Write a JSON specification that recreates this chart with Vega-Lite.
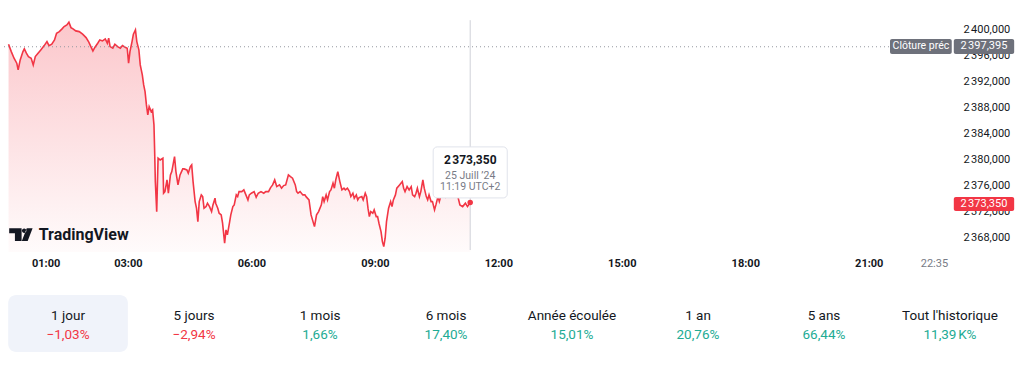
{
  "$schema": "https://vega.github.io/schema/vega-lite/v6.json",
  "background": "white",
  "padding": {"left": 0, "top": 15, "right": 0, "bottom": 0},
  "spacing": 20,
  "config": {"view": {"stroke": null}, "font": "Roboto", "axis": {"labelOverlap": false, "labelBound": false}},
  "vconcat": [
    {
      "width": 948,
      "height": 237,
      "resolve": {"axis": {"y": "independent"}},
      "data": {
        "format": {"parse": {"time": "utc:'%H:%M'"}},
        "values": [
          {"time":"00:06","price":2397.792},{"time":"00:10","price":2396.649},{"time":"00:14","price":2395.629},{"time":"00:18","price":2394.857},{"time":"00:20","price":2393.822},{"time":"00:23","price":2395.367},{"time":"00:27","price":2396.649},{"time":"00:29","price":2397.066},{"time":"00:32","price":2396.402},{"time":"00:35","price":2395.876},{"time":"00:39","price":2395.629},{"time":"00:42","price":2394.595},{"time":"00:45","price":2395.876},{"time":"00:49","price":2396.402},{"time":"00:53","price":2396.911},{"time":"00:58","price":2397.575},
          {"time":"01:02","price":2398.193},{"time":"01:05","price":2397.575},{"time":"01:09","price":2397.792},{"time":"01:13","price":2398.456},{"time":"01:16","price":2399.490},{"time":"01:20","price":2399.737},{"time":"01:24","price":2400.154},{"time":"01:27","price":2400.510},{"time":"01:31","price":2400.772},{"time":"01:34","price":2401.189},{"time":"01:37","price":2400.355},{"time":"01:40","price":2400.154},{"time":"01:44","price":2399.846},{"time":"01:49","price":2399.737},{"time":"01:54","price":2399.336},{"time":"01:59","price":2398.811},
          {"time":"02:03","price":2398.100},{"time":"02:06","price":2397.421},{"time":"02:09","price":2396.757},{"time":"02:12","price":2397.328},{"time":"02:16","price":2397.946},{"time":"02:19","price":2398.456},{"time":"02:23","price":2398.301},{"time":"02:27","price":2398.610},{"time":"02:30","price":2397.946},{"time":"02:32","price":2398.718},{"time":"02:34","price":2397.421},{"time":"02:38","price":2397.174},{"time":"02:41","price":2397.792},{"time":"02:45","price":2397.421},{"time":"02:49","price":2397.174},{"time":"02:52","price":2397.575},{"time":"02:56","price":2397.328},{"time":"02:59","price":2397.174},
          {"time":"03:01","price":2394.857},{"time":"03:03","price":2396.649},{"time":"03:06","price":2398.193},{"time":"03:08","price":2399.336},{"time":"03:11","price":2400.000},{"time":"03:13","price":2398.193},{"time":"03:16","price":2396.911},{"time":"03:18","price":2394.595},{"time":"03:21","price":2393.050},{"time":"03:23","price":2391.506},{"time":"03:25","price":2390.471},{"time":"03:27","price":2388.417},{"time":"03:29","price":2386.873},{"time":"03:31","price":2388.154},{"time":"03:34","price":2387.382},{"time":"03:36","price":2387.645},{"time":"03:38","price":2385.328},{"time":"03:39","price":2381.205},{"time":"03:40","price":2376.571},{"time":"03:42","price":2371.938},{"time":"03:44","price":2380.185},{"time":"03:47","price":2379.923},{"time":"03:51","price":2380.185},{"time":"03:52","price":2374.780},{"time":"03:54","price":2375.027},{"time":"03:57","price":2376.834},{"time":"03:59","price":2374.780},
          {"time":"04:02","price":2377.606},{"time":"04:04","price":2378.116},{"time":"04:08","price":2380.432},{"time":"04:10","price":2378.116},{"time":"04:13","price":2376.062},{"time":"04:16","price":2377.606},{"time":"04:20","price":2378.533},{"time":"04:22","price":2378.533},{"time":"04:26","price":2378.378},{"time":"04:28","price":2377.869},{"time":"04:31","price":2378.888},{"time":"04:33","price":2379.151},{"time":"04:35","price":2376.571},{"time":"04:38","price":2373.483},{"time":"04:40","price":2372.463},{"time":"04:42","price":2370.394},{"time":"04:44","price":2373.483},{"time":"04:47","price":2374.517},{"time":"04:49","price":2374.255},{"time":"04:51","price":2372.463},{"time":"04:54","price":2372.710},{"time":"04:56","price":2373.236},{"time":"04:59","price":2372.710},
          {"time":"05:02","price":2371.938},{"time":"05:04","price":2372.973},{"time":"05:07","price":2374.008},{"time":"05:08","price":2373.236},{"time":"05:11","price":2372.463},{"time":"05:13","price":2371.691},{"time":"05:16","price":2371.429},{"time":"05:18","price":2370.147},{"time":"05:21","price":2367.058},{"time":"05:23","price":2369.112},{"time":"05:25","price":2368.340},{"time":"05:28","price":2370.147},{"time":"05:30","price":2371.429},{"time":"05:33","price":2372.710},{"time":"05:35","price":2372.973},{"time":"05:38","price":2374.517},{"time":"05:40","price":2374.255},{"time":"05:42","price":2375.027},{"time":"05:46","price":2375.027},{"time":"05:49","price":2375.290},{"time":"05:52","price":2374.517},{"time":"05:55","price":2373.745},{"time":"05:57","price":2374.517},
          {"time":"06:00","price":2374.780},{"time":"06:04","price":2375.027},{"time":"06:07","price":2374.162},{"time":"06:10","price":2374.780},{"time":"06:14","price":2375.027},{"time":"06:18","price":2374.780},{"time":"06:21","price":2375.027},{"time":"06:25","price":2375.027},{"time":"06:28","price":2375.645},{"time":"06:31","price":2376.062},{"time":"06:34","price":2376.834},{"time":"06:37","price":2375.799},{"time":"06:41","price":2376.062},{"time":"06:44","price":2375.552},{"time":"06:47","price":2375.954},{"time":"06:50","price":2376.062},{"time":"06:54","price":2377.606},{"time":"06:57","price":2377.344},
          {"time":"07:00","price":2377.097},{"time":"07:04","price":2376.062},{"time":"07:06","price":2375.027},{"time":"07:08","price":2374.780},{"time":"07:11","price":2375.027},{"time":"07:15","price":2374.517},{"time":"07:18","price":2374.517},{"time":"07:20","price":2374.208},{"time":"07:24","price":2373.745},{"time":"07:27","price":2371.429},{"time":"07:32","price":2369.622},{"time":"07:35","price":2371.429},{"time":"07:38","price":2371.938},{"time":"07:42","price":2372.973},{"time":"07:44","price":2374.255},{"time":"07:46","price":2373.483},{"time":"07:49","price":2374.517},{"time":"07:51","price":2373.745},{"time":"07:54","price":2375.027},{"time":"07:56","price":2375.290},{"time":"07:59","price":2376.324},
          {"time":"08:01","price":2375.552},{"time":"08:03","price":2376.834},{"time":"08:06","price":2378.116},{"time":"08:09","price":2376.571},{"time":"08:12","price":2375.290},{"time":"08:15","price":2375.552},{"time":"08:17","price":2375.290},{"time":"08:20","price":2375.552},{"time":"08:23","price":2375.027},{"time":"08:25","price":2374.255},{"time":"08:28","price":2374.780},{"time":"08:30","price":2374.008},{"time":"08:33","price":2374.517},{"time":"08:35","price":2373.745},{"time":"08:37","price":2374.100},{"time":"08:41","price":2374.255},{"time":"08:43","price":2373.745},{"time":"08:46","price":2374.780},{"time":"08:48","price":2374.255},{"time":"08:50","price":2372.463},{"time":"08:52","price":2371.166},{"time":"08:54","price":2371.938},{"time":"08:57","price":2371.691},{"time":"08:59","price":2372.201},
          {"time":"09:02","price":2371.166},{"time":"09:04","price":2371.166},{"time":"09:06","price":2370.147},{"time":"09:09","price":2368.849},{"time":"09:11","price":2367.305},{"time":"09:13","price":2366.533},{"time":"09:15","price":2367.830},{"time":"09:17","price":2370.394},{"time":"09:20","price":2372.463},{"time":"09:23","price":2373.483},{"time":"09:25","price":2372.710},{"time":"09:27","price":2373.745},{"time":"09:30","price":2374.517},{"time":"09:32","price":2375.552},{"time":"09:36","price":2376.062},{"time":"09:40","price":2376.571},{"time":"09:42","price":2375.552},{"time":"09:44","price":2375.027},{"time":"09:47","price":2375.799},{"time":"09:50","price":2375.290},{"time":"09:53","price":2375.799},{"time":"09:55","price":2374.517},{"time":"09:58","price":2374.255},
          {"time":"10:00","price":2374.780},{"time":"10:02","price":2375.552},{"time":"10:05","price":2374.255},{"time":"10:07","price":2375.027},{"time":"10:10","price":2376.834},{"time":"10:12","price":2375.552},{"time":"10:15","price":2374.255},{"time":"10:17","price":2373.745},{"time":"10:19","price":2374.517},{"time":"10:22","price":2373.483},{"time":"10:24","price":2373.483},{"time":"10:27","price":2372.201},{"time":"10:29","price":2372.973},{"time":"10:32","price":2374.255},{"time":"10:34","price":2373.483},{"time":"10:36","price":2374.255},{"time":"10:39","price":2374.826},{"time":"10:43","price":2374.208},{"time":"10:47","price":2374.981},{"time":"10:50","price":2374.517},{"time":"10:54","price":2375.290},{"time":"10:58","price":2374.826},
          {"time":"11:01","price":2374.255},{"time":"11:04","price":2372.973},{"time":"11:08","price":2372.710},{"time":"11:12","price":2373.236},{"time":"11:15","price":2372.710},{"time":"11:19","price":2373.350}
        ]
      },
      "layer": [
        {
          "mark": {
            "type": "area",
            "color": {
              "gradient": "linear", "x1": 0, "y1": 0, "x2": 0, "y2": 1,
              "stops": [
                {"offset": 0, "color": "rgba(242,54,69,0.28)"},
                {"offset": 1, "color": "rgba(242,54,69,0.02)"}
              ]
            }
          },
          "encoding": {
            "x": {
              "field": "time", "type": "temporal",
              "scale": {
                "type": "utc",
                "domain": [
                  {"year": 1899, "month": 12, "date": 31, "hours": 23, "minutes": 55, "utc": true},
                  {"year": 1900, "month": 1, "date": 1, "hours": 22, "minutes": 57, "utc": true}
                ]
              },
              "axis": {
                "title": null,
                "values": [
                  {"year": 1900, "month": 1, "date": 1, "hours": 1, "utc": true},
                  {"year": 1900, "month": 1, "date": 1, "hours": 3, "utc": true},
                  {"year": 1900, "month": 1, "date": 1, "hours": 6, "utc": true},
                  {"year": 1900, "month": 1, "date": 1, "hours": 9, "utc": true},
                  {"year": 1900, "month": 1, "date": 1, "hours": 12, "utc": true},
                  {"year": 1900, "month": 1, "date": 1, "hours": 15, "utc": true},
                  {"year": 1900, "month": 1, "date": 1, "hours": 18, "utc": true},
                  {"year": 1900, "month": 1, "date": 1, "hours": 21, "utc": true},
                  {"year": 1900, "month": 1, "date": 1, "hours": 22, "minutes": 35, "utc": true}
                ],
                "labelExpr": "utcFormat(datum.value, '%H:%M')",
                "labelColor": {"condition": {"test": "utchours(datum.value) === 22", "value": "#787b86"}, "value": "#131722"},
                "labelFontWeight": {"condition": {"test": "utchours(datum.value) === 22", "value": "normal"}, "value": "bold"},
                "grid": false, "domain": false, "ticks": false, "tickSize": 0,
                "labelPadding": 5, "labelFontSize": 11, "labelFlush": false, "labelOverlap": false
              }
            },
            "y": {
              "field": "price", "type": "quantitative",
              "scale": {"domain": [2365.7, 2402.3], "zero": false, "nice": false},
              "axis": {
                "title": null, "orient": "right",
                "values": [2368, 2372, 2376, 2380, 2384, 2388, 2392, 2396, 2400],
                "labelExpr": "replace(replace(format(datum.value, ',.3f'), ',', '\u202f'), '.', ',')",
                "grid": false, "domain": false, "ticks": false, "tickSize": 0, "labelOverlap": false, "labelBound": false,
                "labelPadding": 14, "labelFontSize": 11, "labelColor": "#131722", "labelFlush": false
              }
            },
            "y2": {"datum": 2365.7}
          }
        },
        {
          "mark": {"type": "line", "color": "#f23645", "strokeWidth": 1.6},
          "encoding": {
            "x": {"field": "time", "type": "temporal"},
            "y": {"field": "price", "type": "quantitative", "axis": null}
          }
        },
        {
          "data": {"values": [{}]},
          "mark": {"type": "rule", "color": "#9598a1", "strokeDash": [1, 3], "strokeWidth": 1},
          "encoding": {"y": {"datum": 2397.395, "type": "quantitative", "axis": null}}
        },
        {
          "data": {"values": [{}]},
          "mark": {"type": "rule", "color": "#cfd1d8", "strokeWidth": 1},
          "encoding": {
            "x": {"datum": {"year": 1900, "month": 1, "date": 1, "hours": 11, "minutes": 19, "utc": true}, "type": "temporal"},
            "y": {"datum": 2401.5, "type": "quantitative", "axis": null},
            "y2": {"datum": 2366.0}
          }
        },
        {
          "data": {"values": [{}]},
          "mark": {"type": "circle", "color": "#f23645", "size": 30, "opacity": 1},
          "encoding": {
            "x": {"datum": {"year": 1900, "month": 1, "date": 1, "hours": 11, "minutes": 19, "utc": true}, "type": "temporal"},
            "y": {"datum": 2373.35, "type": "quantitative", "axis": null}
          }
        },
        {
          "data": {"values": [{}]},
          "mark": {"type": "rect", "fill": "#ffffff", "stroke": "#e0e3eb", "strokeWidth": 1, "cornerRadius": 4},
          "encoding": {
            "x": {"datum": {"year": 1900, "month": 1, "date": 1, "hours": 10, "minutes": 25, "utc": true}, "type": "temporal"},
            "x2": {"datum": {"year": 1900, "month": 1, "date": 1, "hours": 12, "minutes": 13, "utc": true}},
            "y": {"datum": 2381.93, "type": "quantitative", "axis": null},
            "y2": {"datum": 2374.05}
          }
        },
        {
          "data": {"values": [{}]},
          "mark": {"type": "text", "text": "2\u202f373,350", "fontSize": 12, "fontWeight": "bold", "color": "#131722"},
          "encoding": {
            "x": {"datum": {"year": 1900, "month": 1, "date": 1, "hours": 11, "minutes": 19, "utc": true}, "type": "temporal"},
            "y": {"datum": 2379.85, "type": "quantitative", "axis": null}
          }
        },
        {
          "data": {"values": [{}]},
          "mark": {"type": "text", "text": "25 Juill \u201924", "fontSize": 10.5, "color": "#787b86"},
          "encoding": {
            "x": {"datum": {"year": 1900, "month": 1, "date": 1, "hours": 11, "minutes": 19, "utc": true}, "type": "temporal"},
            "y": {"datum": 2377.5, "type": "quantitative", "axis": null}
          }
        },
        {
          "data": {"values": [{}]},
          "mark": {"type": "text", "text": "11:19 UTC+2", "fontSize": 10.5, "color": "#787b86"},
          "encoding": {
            "x": {"datum": {"year": 1900, "month": 1, "date": 1, "hours": 11, "minutes": 19, "utc": true}, "type": "temporal"},
            "y": {"datum": 2375.8, "type": "quantitative", "axis": null}
          }
        },
        {
          "data": {"values": [{}]},
          "mark": {"type": "rect", "fill": "#6e717b", "cornerRadius": 2},
          "encoding": {
            "x": {"datum": {"year": 1900, "month": 1, "date": 1, "hours": 21, "minutes": 31, "utc": true}, "type": "temporal"},
            "x2": {"datum": {"year": 1900, "month": 1, "date": 1, "hours": 23, "minutes": 1, "utc": true}},
            "y": {"datum": 2398.61, "type": "quantitative", "axis": null},
            "y2": {"datum": 2396.29}
          }
        },
        {
          "data": {"values": [{}]},
          "mark": {"type": "rect", "fill": "#6e717b", "cornerRadius": 2},
          "encoding": {
            "x": {"datum": {"year": 1900, "month": 1, "date": 1, "hours": 23, "minutes": 4, "utc": true}, "type": "temporal"},
            "x2": {"datum": {"year": 1900, "month": 1, "date": 2, "hours": 0, "minutes": 32, "utc": true}},
            "y": {"datum": 2398.61, "type": "quantitative", "axis": null},
            "y2": {"datum": 2396.29}
          }
        },
        {
          "data": {"values": [{}]},
          "mark": {"type": "text", "text": "Cl\u00f4ture pr\u00e9c", "fontSize": 10.5, "color": "#ffffff"},
          "encoding": {
            "x": {"datum": {"year": 1900, "month": 1, "date": 1, "hours": 22, "minutes": 16, "utc": true}, "type": "temporal"},
            "y": {"datum": 2397.45, "type": "quantitative", "axis": null}
          }
        },
        {
          "data": {"values": [{}]},
          "mark": {"type": "text", "text": "2\u202f397,395", "fontSize": 11, "color": "#ffffff"},
          "encoding": {
            "x": {"datum": {"year": 1900, "month": 1, "date": 1, "hours": 23, "minutes": 48, "utc": true}, "type": "temporal"},
            "y": {"datum": 2397.45, "type": "quantitative", "axis": null}
          }
        },
        {
          "data": {"values": [{}]},
          "mark": {"type": "rect", "fill": "#f23645", "cornerRadius": 2},
          "encoding": {
            "x": {"datum": {"year": 1900, "month": 1, "date": 1, "hours": 23, "minutes": 4, "utc": true}, "type": "temporal"},
            "x2": {"datum": {"year": 1900, "month": 1, "date": 2, "hours": 0, "minutes": 32, "utc": true}},
            "y": {"datum": 2374.21, "type": "quantitative", "axis": null},
            "y2": {"datum": 2372.05}
          }
        },
        {
          "data": {"values": [{}]},
          "mark": {"type": "text", "text": "2\u202f373,350", "fontSize": 11, "color": "#ffffff"},
          "encoding": {
            "x": {"datum": {"year": 1900, "month": 1, "date": 1, "hours": 23, "minutes": 48, "utc": true}, "type": "temporal"},
            "y": {"datum": 2373.13, "type": "quantitative", "axis": null}
          }
        },
        {
          "data": {"values": [{}]},
          "mark": {
            "type": "point", "filled": true, "color": "#131722", "opacity": 1, "size": 548,
            "shape": "M-1,-0.55H0.06V0.54H-0.51V-0.12H-1Z M0.09,-0.33A0.19,0.19 0 1,0 0.47,-0.33A0.19,0.19 0 1,0 0.09,-0.33Z M0.5,-0.55H1L0.58,0.54H0.08Z"
          },
          "encoding": {
            "x": {"datum": {"year": 1900, "month": 1, "date": 1, "hours": 0, "minutes": 24, "utc": true}, "type": "temporal"},
            "y": {"datum": 2368.39, "type": "quantitative", "axis": null}
          }
        },
        {
          "data": {"values": [{}]},
          "mark": {"type": "text", "text": "TradingView", "fontSize": 16, "fontWeight": "bold", "color": "#131722", "align": "left"},
          "encoding": {
            "x": {"datum": {"year": 1900, "month": 1, "date": 1, "hours": 0, "minutes": 50, "utc": true}, "type": "temporal"},
            "y": {"datum": 2368.34, "type": "quantitative", "axis": null}
          }
        }
      ]
    },
    {
      "width": 1016,
      "height": 70,
      "data": {
        "values": [
          {"period": "1 jour", "change": "\u22121,03%", "dir": "neg"},
          {"period": "5 jours", "change": "\u22122,94%", "dir": "neg"},
          {"period": "1 mois", "change": "1,66%", "dir": "pos"},
          {"period": "6 mois", "change": "17,40%", "dir": "pos"},
          {"period": "Ann\u00e9e \u00e9coul\u00e9e", "change": "15,01%", "dir": "pos"},
          {"period": "1 an", "change": "20,76%", "dir": "pos"},
          {"period": "5 ans", "change": "66,44%", "dir": "pos"},
          {"period": "Tout l'historique", "change": "11,39\u202fK%", "dir": "pos"}
        ]
      },
      "encoding": {
        "x": {"field": "period", "type": "nominal", "sort": null, "axis": null, "scale": {"paddingInner": 0, "paddingOuter": 0.032}}
      },
      "layer": [
        {
          "mark": {"type": "bar", "cornerRadius": 8, "width": {"band": 0.95}},
          "encoding": {
            "y": {"datum": 7, "type": "quantitative", "scale": {"domain": [0, 70], "reverse": true}, "axis": null},
            "y2": {"datum": 64},
            "color": {"condition": {"test": "datum.period === '1 jour'", "value": "#f0f3fa"}, "value": "rgba(255,255,255,0)"}
          }
        },
        {
          "mark": {"type": "text", "fontSize": 13.5, "color": "#131722"},
          "encoding": {
            "y": {"datum": 27.5, "type": "quantitative"},
            "text": {"field": "period"}
          }
        },
        {
          "mark": {"type": "text", "fontSize": 13.5},
          "encoding": {
            "y": {"datum": 46.5, "type": "quantitative"},
            "text": {"field": "change"},
            "color": {"field": "dir", "type": "nominal", "scale": {"domain": ["neg", "pos"], "range": ["#f23645", "#22ab94"]}, "legend": null}
          }
        }
      ]
    }
  ]
}
